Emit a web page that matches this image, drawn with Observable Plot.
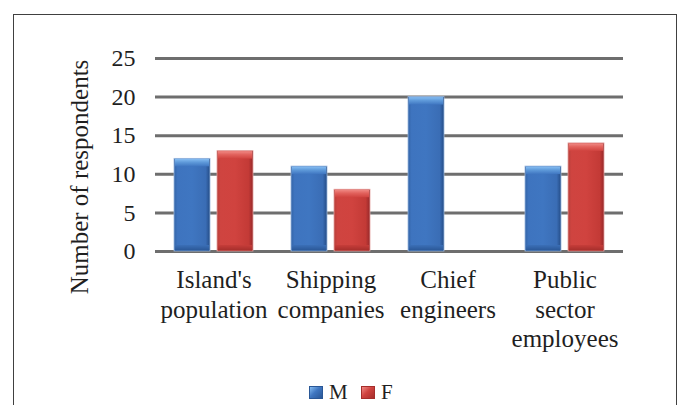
<!DOCTYPE html>
<html>
<head>
<meta charset="utf-8">
<script src="https://cdn.jsdelivr.net/npm/d3@7"></script>
<script src="https://cdn.jsdelivr.net/npm/@observablehq/plot@0.6"></script>
<style>
  html, body { margin: 0; padding: 0; background: #fff; }
  #page { position: relative; width: 678px; height: 405px; overflow: hidden; background: #fff; }
  #frame { position: absolute; left: 13px; top: 14px; width: 662px; height: 440px; border: 1px solid #404040; pointer-events: none; }
  #chart { position: absolute; left: 0; top: 0; }
  #legend { position: absolute; left: 0; top: 375px; width: 678px; height: 30px;
            font-family: "Liberation Serif", serif; font-size: 21px; color: #1f1f1f; }
  .item { position: absolute; top: 5px; display: flex; align-items: center; }
  .sw { width: 14px; height: 13px; margin-right: 6px; box-sizing: border-box; }
</style>
</head>
<body>
<div id="page">
  <div id="chart"></div>
  <div id="legend"></div>
  <div id="frame"></div>
</div>
<script>
// ---- data ----
const categories = ["Island's population", "Shipping companies", "Chief engineers", "Public sector employees"];
const tickLabels = ["Island's\npopulation", "Shipping\ncompanies", "Chief\nengineers", "Public\nsector\nemployees"];
const series = ["M", "F"];
const valuesM = [12, 11, 20, 11];
const valuesF = [13, 8, 0, 14];
const yTicks = [0, 5, 10, 15, 20, 25];
const yTitle = "Number of respondents";

const rows = categories.flatMap((c, i) => [
  {category: c, series: "M", value: valuesM[i]},
  {category: c, series: "F", value: valuesF[i]}
]);
const rowsM = rows.filter(d => d.series === "M" && d.value > 0);
const rowsF = rows.filter(d => d.series === "F" && d.value > 0);

const font = "'Liberation Serif', 'Times New Roman', serif";
const ink = "#1f1f1f";

function bars(data, key) {
  return [
    Plot.barY(data, {fx: "category", x: "series", y: "value", fill: `url(#body${key})`,
      stroke: key === "M" ? "#9bb8de" : "#e3a19f", strokeWidth: 0.8}),
    Plot.barY(data, {fx: "category", x: "series", y1: "value", y2: "value", insetBottom: -8,
      insetLeft: 1, insetRight: 1, insetTop: 0.5, fill: `url(#cap${key})`}),
    Plot.barY(data, {fx: "category", x: "series", y1: 0, y2: 0, insetTop: -6,
      insetLeft: 1, insetRight: 1, insetBottom: 0.5, fill: `url(#bot${key})`})
  ];
}

const chart = Plot.plot({
  width: 678,
  height: 375,
  marginLeft: 153,
  marginRight: 54,
  marginTop: 58,
  marginBottom: 124,
  style: {fontFamily: font, fontSize: "25px", color: ink, background: "transparent", overflow: "visible"},
  fx: {domain: categories, padding: 0, label: null},
  x: {domain: series, paddingInner: 0.159, paddingOuter: 0.418, axis: null},
  y: {domain: [0, 25], label: null},
  marks: [
    Plot.ruleY(yTicks, {stroke: "#6e6e6e", strokeWidth: 3}),
    ...bars(rowsM, "M"),
    ...bars(rowsF, "F"),
    Plot.axisY(yTicks, {tickSize: 0, tickPadding: 20, fontSize: 24, label: null, fill: ink}),
    Plot.axisFx({anchor: "bottom", tickSize: 0, tickPadding: 16, label: null, lineHeight: 1.18, fontSize: 25, fill: ink,
      tickFormat: d => tickLabels[categories.indexOf(d)]}),
    Plot.text([yTitle], {frameAnchor: "left", facetAnchor: "left", rotate: -90, dx: -76, dy: 22,
      textAnchor: "middle", lineAnchor: "middle", fontSize: 25, fill: ink, text: d => d})
  ]
});
document.getElementById("chart").appendChild(chart);

// gradients
const svg = d3.select(chart);
const defs = svg.insert("defs", ":first-child");
function hgrad(id, stops) {
  const g = defs.append("linearGradient").attr("id", id).attr("x1", 0).attr("x2", 1).attr("y1", 0).attr("y2", 0);
  stops.forEach(([o, c]) => g.append("stop").attr("offset", o).attr("stop-color", c));
}
function vgrad(id, stops) {
  const g = defs.append("linearGradient").attr("id", id).attr("x1", 0).attr("x2", 0).attr("y1", 0).attr("y2", 1);
  stops.forEach(([o, c]) => g.append("stop").attr("offset", o).attr("stop-color", c));
}
hgrad("bodyM", [[0, "#3465a8"], [0.1, "#3e74bf"], [0.5, "#3f76c1"], [0.88, "#3a6db5"], [1, "#244c86"]]);
vgrad("capM", [[0, "#86bdf2"], [0.45, "#5f9ada"], [1, "#3f76c1"]]);
vgrad("botM", [[0, "#3b6fb7"], [1, "#2a5796"]]);
hgrad("bodyF", [[0, "#b8403b"], [0.1, "#cf4440"], [0.5, "#d0433f"], [0.88, "#c33a36"], [1, "#96282a"]]);
vgrad("capF", [[0, "#f08a85"], [0.45, "#e2625d"], [1, "#d0433f"]]);
vgrad("botF", [[0, "#c63d39"], [1, "#a52e2b"]]);

// legend
const legend = document.getElementById("legend");
const legendItems = [
  {name: series[0], left: 309, bg: "linear-gradient(135deg, #86bdf2 0%, #3f76c1 45%, #2a5796 100%)", border: "#2a5796"},
  {name: series[1], left: 361, bg: "linear-gradient(135deg, #f08a85 0%, #d0433f 45%, #a52e2b 100%)", border: "#a52e2b"}
];
legendItems.forEach(it => {
  const el = document.createElement("div");
  el.className = "item";
  el.style.left = it.left + "px";
  const sw = document.createElement("div");
  sw.className = "sw";
  sw.style.background = it.bg;
  sw.style.border = "1px solid " + it.border;
  const tx = document.createElement("span");
  tx.textContent = it.name;
  el.appendChild(sw);
  el.appendChild(tx);
  legend.appendChild(el);
});
</script>
</body>
</html>
